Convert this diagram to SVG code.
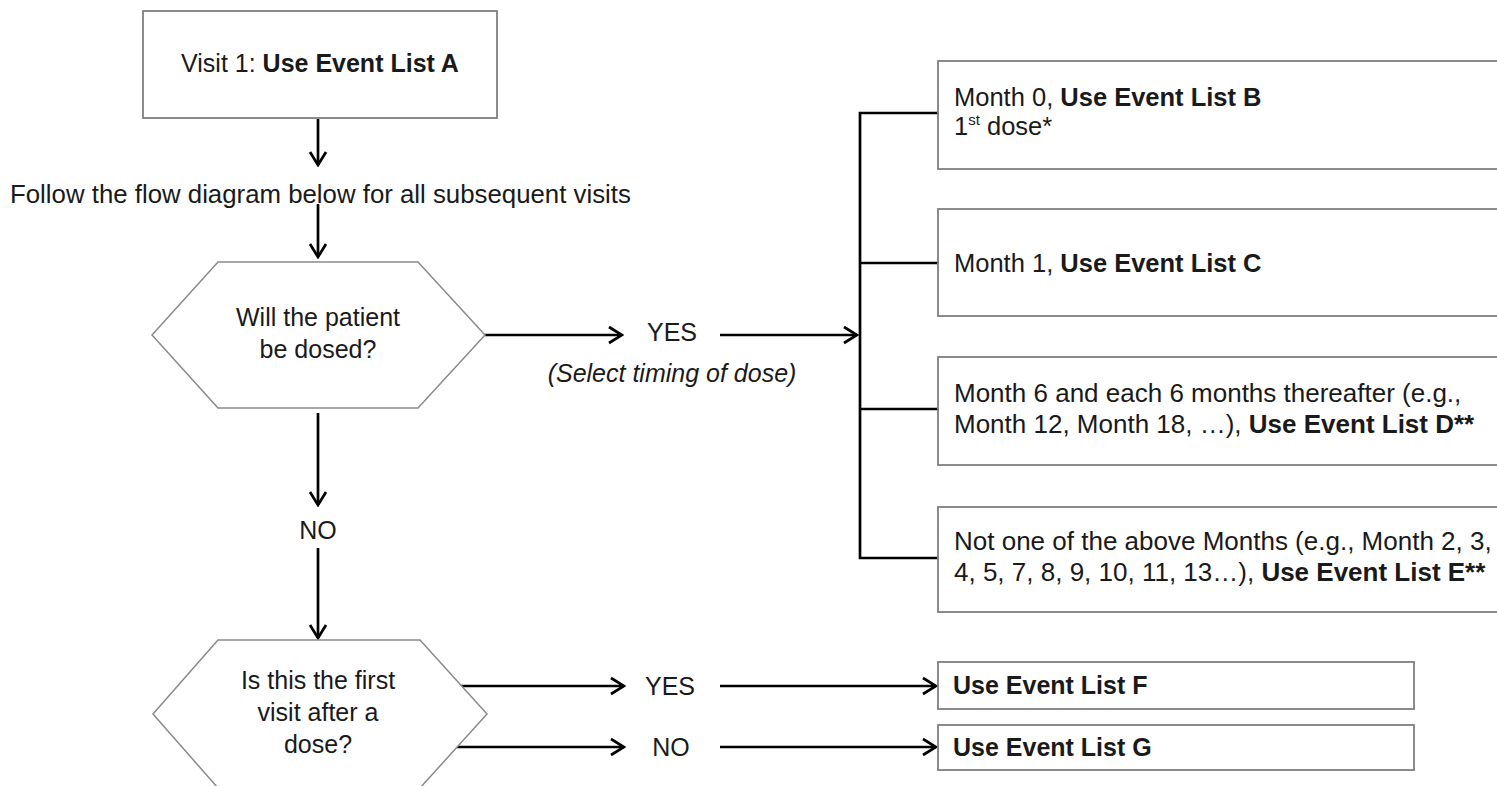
<svg xmlns="http://www.w3.org/2000/svg" width="1497" height="786" viewBox="0 0 1497 786">
<defs>
<style>
text{font-family:"Liberation Sans",Arial,sans-serif;fill:#1a1a1a;font-size:25px}
.c{text-anchor:middle}
.b{font-weight:bold}
.bx{font-size:25.5px}
.bx2{font-size:26px}
.fl{font-size:25.8px}
.it{font-style:italic}
.box{fill:#fff;stroke:#7f7f7f;stroke-width:1.8}
.hex{fill:#fff;stroke:#8a8a8a;stroke-width:1.5}
.ln{fill:none;stroke:#000;stroke-width:2.7}
.arr{fill:none;stroke:#000;stroke-width:2.7;marker-end:url(#ah)}
</style>
<marker id="ah" viewBox="-15 -10 17 20" refX="0" refY="0" markerWidth="17" markerHeight="20" markerUnits="userSpaceOnUse" orient="auto">
<path d="M-13,-8 L0,0 L-13,8" fill="none" stroke="#000" stroke-width="2.7"/>
</marker>
</defs>
<rect width="1497" height="786" fill="#fff"/>

<g id="connectors">
<line class="arr" x1="318" y1="119" x2="318" y2="165"/>
<line class="arr" x1="318" y1="204" x2="318" y2="257"/>
<line class="arr" x1="485" y1="335" x2="622" y2="335"/>
<line class="arr" x1="720" y1="335" x2="857" y2="335"/>
<line class="arr" x1="318" y1="413" x2="318" y2="505"/>
<line class="arr" x1="318" y1="548" x2="318" y2="638"/>
<polyline class="ln" points="938,113 860,113 860,558 938,558"/>
<line class="ln" x1="860" y1="263" x2="938" y2="263"/>
<line class="ln" x1="860" y1="409" x2="938" y2="409"/>
<line class="arr" x1="461" y1="686" x2="624" y2="686"/>
<line class="arr" x1="457" y1="747" x2="624" y2="747"/>
<line class="arr" x1="720" y1="686" x2="936" y2="686"/>
<line class="arr" x1="720" y1="747" x2="936" y2="747"/>
<text class="fl" x="10" y="203">Follow the flow diagram below for all subsequent visits</text>
<text class="c" x="672" y="341">YES</text>
<text class="c it" x="672" y="382">(Select timing of dose)</text>
<text class="c" x="318" y="539">NO</text>
<text class="c" x="670" y="695">YES</text>
<text class="c" x="671" y="756">NO</text>
</g>

<g id="visit1">
<rect class="box" x="143" y="11" width="354" height="107"/>
<text class="c" x="320" y="72">Visit 1: <tspan class="b">Use Event List A</tspan></text>
</g>

<g id="q-dosed">
<polygon class="hex" points="152,335 218,262 418,262 485,335 418,408 218,408"/>
<text class="c" x="318" y="326">Will the patient</text>
<text class="c" x="318" y="358">be dosed?</text>
</g>

<g id="q-first">
<polygon class="hex" points="153,714 218,640 420,640 487,714 420,788 218,788"/>
<text class="c" x="318" y="689">Is this the first</text>
<text class="c" x="318" y="721">visit after a</text>
<text class="c" x="318" y="753">dose?</text>
</g>

<g id="listB">
<rect class="box" x="938" y="61" width="570" height="108"/>
<text class="bx" x="954" y="106">Month 0, <tspan class="b">Use Event List B</tspan></text>
<text class="bx" x="954" y="135">1<tspan font-size="15" dy="-10">st</tspan><tspan dy="10"> dose*</tspan></text>
</g>

<g id="listC">
<rect class="box" x="938" y="209" width="570" height="107"/>
<text class="bx" x="954" y="272">Month 1, <tspan class="b">Use Event List C</tspan></text>
</g>

<g id="listD">
<rect class="box" x="938" y="357" width="570" height="108"/>
<text class="bx2" x="954" y="402">Month 6 and each 6 months thereafter (e.g.,</text>
<text class="bx2" x="954" y="433">Month 12, Month 18, …), <tspan class="b">Use Event List D**</tspan></text>
</g>

<g id="listE">
<rect class="box" x="938" y="507" width="570" height="105"/>
<text class="bx2" x="954" y="550">Not one of the above Months (e.g., Month 2, 3,</text>
<text class="bx2" x="954" y="581">4, 5, 7, 8, 9, 10, 11, 13…), <tspan class="b">Use Event List E**</tspan></text>
</g>

<g id="listF">
<rect class="box" x="938" y="662" width="476" height="47"/>
<text class="b" x="953" y="694">Use Event List F</text>
</g>

<g id="listG">
<rect class="box" x="938" y="725" width="476" height="45"/>
<text class="b" x="953" y="756">Use Event List G</text>
</g>
</svg>
